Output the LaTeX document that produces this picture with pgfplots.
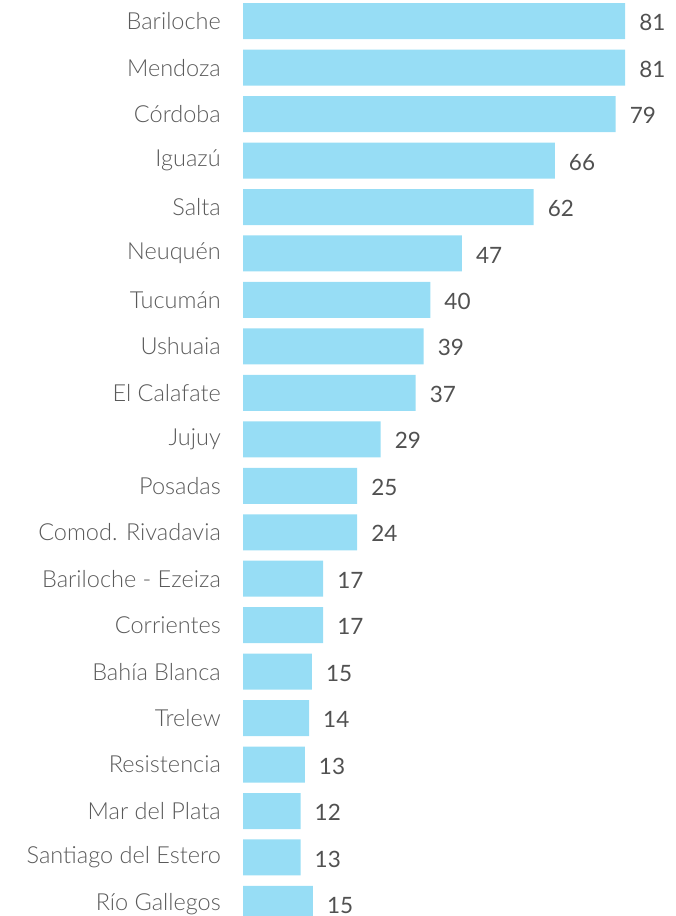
\documentclass[border=0pt]{standalone}
\usepackage{fontspec}
\setmainfont{Lato}[UprightFont=* Light]
\newfontfamily\numfont{Lato}
\usepackage{pgfplots}
\pgfplotsset{compat=1.18}
\definecolor{barblue}{RGB}{151,221,245}
\definecolor{txtgray}{RGB}{90,90,90}
\begin{document}
\begin{tikzpicture}
\begin{axis}[
  at={(243pt,0pt)}, anchor=south west,
  scale only axis,
  width=433pt, height=916pt,
  xbar, bar width=36pt,
  xmin=0, xmax=91.8,
  ymin=-0.456, ymax=19.26,
  y dir=reverse,
  axis line style={draw=none},
  major tick length=0pt,
  xtick=\empty,
  ytick={0,...,19},
  yticklabels={Bariloche,Mendoza,Córdoba,Iguazú,Salta,Neuquén,Tucumán,Ushuaia,El Calafate,Jujuy,Posadas,Comod. Rivadavia,Bariloche - Ezeiza,Corrientes,Bahía Blanca,Trelew,Resistencia,Mar del Plata,Santiago del Estero,Río Gallegos},
  yticklabel style={font=\fontsize{23.5}{27}\selectfont, text=txtgray, anchor=east, inner sep=0pt, xshift=-22pt},
  point meta=explicit symbolic,
  nodes near coords={\pgfplotspointmeta},
  every node near coord/.append style={font=\numfont\fontsize{22.5}{26}\selectfont, text=txtgray!90!black, anchor=west, inner sep=0pt, xshift=14pt, yshift=-1.5pt},
]
\addplot[fill=barblue, draw=none] coordinates {
(81.0,0) [81]
(81.0,1) [81]
(79.0,2) [79]
(66.1,3) [66]
(61.6,4) [62]
(46.4,5) [47]
(39.7,6) [40]
(38.3,7) [39]
(36.6,8) [37]
(29.2,9) [29]
(24.2,10) [25]
(24.2,11) [24]
(17.0,12) [17]
(17.0,13) [17]
(14.6,14) [15]
(14.0,15) [14]
(13.1,16) [13]
(12.2,17) [12]
(12.2,18) [13]
(14.8,19) [15]
};
\end{axis}
\pgfresetboundingbox
\path (0pt,0pt) rectangle (676pt,916pt);
\end{tikzpicture}
\end{document}
